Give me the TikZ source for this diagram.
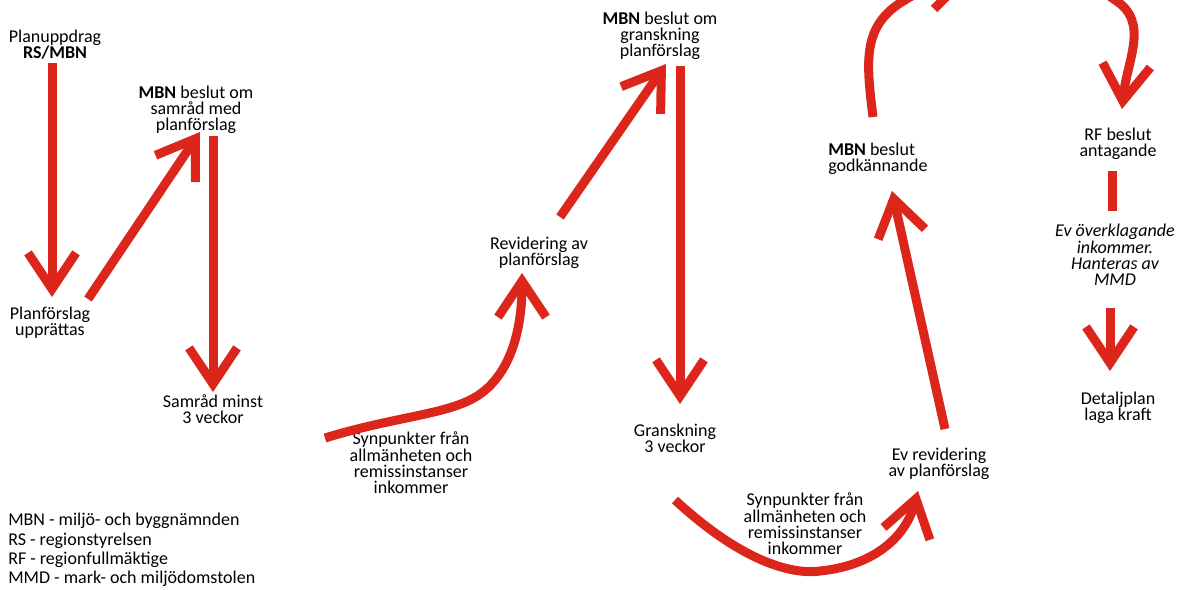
\documentclass[tikz,border=0pt]{standalone}
\usepackage{fontspec}
\setmainfont{Carlito}
\usetikzlibrary{arrows.meta,calc}
\definecolor{flowred}{RGB}{220,38,28}
\begin{document}
\begin{tikzpicture}[x=0.75pt,y=-0.75pt,
  lbl/.style={inner sep=0pt, align=center, font=\fontsize{13.5}{12.2}\selectfont, text=black},
  leg/.style={inner sep=0pt, align=left, anchor=west, font=\fontsize{13.5}{14.4}\selectfont, text=black},
  flow/.style={draw=flowred, line width=6.75pt, -{Straight Barb[length=27pt,width=36pt,sharp]}},
  bar/.style={draw=flowred, line width=6.75pt}]
\useasboundingbox (0,0) rectangle (1184,589);
\clip (0,0) rectangle (1184,589);
% labels
\node[lbl] (n1) at (55,45) {Planuppdrag\\\textbf{RS/MBN}};
\node[lbl] (n2) at (50,323) {Planförslag\\upprättas};
\node[lbl] (n3) at (196,110) {\textbf{MBN} beslut om\\samråd med\\planförslag};
\node[lbl] (n4) at (213,409) {Samråd minst\\3 veckor};
\node[lbl] (n5) at (411,463) {Synpunkter från\\allmänheten och\\remissinstanser\\inkommer};
\node[lbl] (n6) at (539,253) {Revidering av\\planförslag};
\node[lbl] (n7) at (660,36) {\textbf{MBN} beslut om\\granskning\\planförslag};
\node[lbl] (n8) at (675,438) {Granskning\\3 veckor};
\node[lbl] (n9) at (805,524) {Synpunkter från\\allmänheten och\\remissinstanser\\inkommer};
\node[lbl] (n10) at (939,464) {Ev revidering\\av planförslag};
\node[lbl, align=left, anchor=west] (n11) at (828,159) {\textbf{MBN} beslut\\godkännande};
\node[lbl] (n12) at (1118,144) {RF beslut\\antagande};
\node[lbl, font=\fontsize{13.5}{12.2}\selectfont\itshape] (n13) at (1115,255) {Ev överklagande\\inkommer.\\Hanteras av\\MMD};
\node[lbl] (n14) at (1118,408) {Detaljplan\\laga kraft};
\node[leg] (lg) at (8,550) {MBN - miljö- och byggnämnden\\RS - regionstyrelsen\\RF - regionfullmäktige\\MMD - mark- och miljödomstolen};
% connectors
\draw[flow] ($(n1)+(-3,18)$) -- ($(n2)+(2,-26)$);
\draw[flow] ($(n2)+(38,-24)$) -- ($(n3)+(4,22)$);
\draw[flow] ($(n3)+(17,26)$) -- ($(n4)+(0,-17)$);
\draw[flow] ($(n5)+(-86,-25)$) .. controls (390,418) and (440,415) .. (470,400)
  .. controls (505,383) and (522,340) .. ($(n6)+(-17,20)$);
\draw[flow] ($(n6)+(21,-36)$) -- ($(n7)+(6,28)$);
\draw[flow] ($(n7)+(20,30)$) -- ($(n8)+(5,-34)$);
\draw[flow] ($(n8)+(0,62)$) .. controls (740,560) and (790,575) .. (820,571)
  .. controls (870,566) and (905,540) .. ($(n10)+(-21,27)$);
\draw[flow] ($(n10)+(6,-35)$) -- ($(n11.west)+(64,32)$);
\draw[flow] ($(n11.west)+(45,-42)$) .. controls (866,60) and (862,25) .. (905,0)
  .. controls (960,-35) and (1070,-35) .. (1115,0)
  .. controls (1150,22) and (1127,60) .. ($(n12)+(4,-35)$);
\draw[bar] (934,9) -- (946,-3);
\draw[bar] ($(n12)+(-6,27)$) -- ($(n13)+(-3,-44)$);
\draw[flow] ($(n13)+(-5,53)$) -- ($(n14)+(-8,-37)$);
\end{tikzpicture}
\end{document}
